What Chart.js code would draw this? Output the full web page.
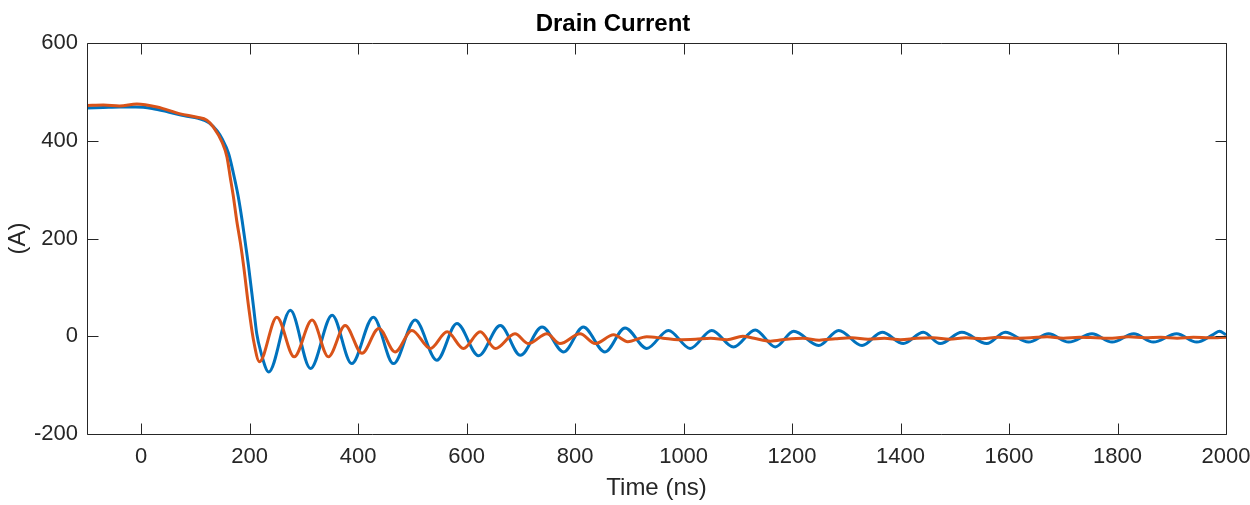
<!DOCTYPE html>
<html>
<head>
<meta charset="utf-8">
<script src="https://cdn.jsdelivr.net/npm/chart.js@4/dist/chart.umd.min.js"></script>
<style>
  html, body { margin: 0; padding: 0; background: #fff; }
  #wrap { width: 1250px; height: 505px; }
</style>
</head>
<body>
<div id="wrap"><canvas id="drain_chart"></canvas></div>
<script>
// tick labels
var xTicks = [0, 200, 400, 600, 800, 1000, 1200, 1400, 1600, 1800, 2000];
var yTicks = [-200, 0, 200, 400, 600];

// blue trace (time ns / current A)
var blueT = [-100, -70, -40, -10, 20, 50, 80, 105, 125, 140, 149, 161, 170, 179, 186, 192, 198, 207, 213, 220,
  235, 275, 312, 352, 388, 428, 465, 505, 545, 582, 622, 662, 699, 739, 779, 815, 855, 892, 932, 972,
  1012, 1052, 1092, 1132, 1169, 1203, 1249, 1286, 1329, 1366, 1405, 1442, 1473, 1513, 1559, 1593, 1636, 1673, 1710, 1753,
  1790, 1830, 1866, 1909, 1946, 1977, 1988, 2000];
var blueI = [467, 468, 469, 469, 466, 459, 451, 446, 437, 420, 404, 374, 333, 285, 237, 190, 142, 60, 5, -30,
  -73, 53, -66, 43, -56, 39, -56, 33, -49, 26, -40, 22, -39, 19, -32, 19, -32, 17, -25, 12,
  -25, 12, -22, 13, -22, 10, -19, 12, -19, 8, -15, 8, -15, 8, -15, 8, -12, 5, -12, 5,
  -12, 5, -12, 5, -12, 4, 10, 3];

// orange trace
var orangeT = [-100, -70, -40, -8, 29, 72, 103, 121, 133, 149, 158, 164, 170, 176, 183, 189, 198, 207, 218, 250,
  282, 315, 345, 376, 407, 438, 468, 499, 533, 564, 594, 625, 653, 689, 714, 748, 772, 809, 837, 871,
  897, 932, 962, 990, 1022, 1050, 1080, 1109, 1130, 1160, 1190, 1220, 1250, 1280, 1310, 1340, 1370, 1400, 1430, 1460,
  1490, 1520, 1550, 1580, 1610, 1640, 1670, 1700, 1730, 1760, 1790, 1820, 1850, 1880, 1910, 1940, 1970, 2000];
var orangeI = [472, 473, 471, 475, 469, 455, 448, 442, 428, 397, 367, 326, 285, 237, 190, 142, 60, -8, -52, 39,
  -42, 33, -42, 22, -35, 16, -32, 12, -25, 9, -25, 9, -25, 5, -15, 5, -15, 5, -15, 3,
  -11, -1, -4, -7, -6, -4, -7, 0, -4, -10, -6, -4, -8, -5, -3, -6, -4, -7, -4, -3,
  -6, -3, -5, -2, -4, -3, -1, -4, -2, -3, -4, -1, -3, -2, -4, -2, -3, -2];

var FONT = "'Liberation Sans', Arial, Helvetica, sans-serif";
var AXIS = '#262626';
var TICK = 11;

function pts(t, v) {
    return t.map(function (x, i) { return { x: x, y: v[i] }; });
}

// box round the plot + inward ticks on all four sides (MATLAB look)
var frameTicks = {
    id: 'frameTicks',
    afterDatasetsDraw: function (chart) {
        var ctx = chart.ctx, a = chart.chartArea, sx = chart.scales.x, sy = chart.scales.y;
        var L = Math.round(a.left) + 0.5, R = Math.round(a.right) + 0.5;
        var T = Math.round(a.top) + 0.5, B = Math.round(a.bottom) + 0.5;
        ctx.save();
        ctx.strokeStyle = AXIS;
        ctx.lineWidth = 1;
        ctx.beginPath();
        ctx.rect(L, T, R - L, B - T);
        xTicks.forEach(function (v) {
            var p = Math.round(sx.getPixelForValue(v)) + 0.5;
            ctx.moveTo(p, B); ctx.lineTo(p, B - TICK);
            ctx.moveTo(p, T); ctx.lineTo(p, T + TICK);
        });
        yTicks.forEach(function (v) {
            var p = Math.round(sy.getPixelForValue(v)) + 0.5;
            ctx.moveTo(L, p); ctx.lineTo(L + TICK, p);
            ctx.moveTo(R, p); ctx.lineTo(R - TICK, p);
        });
        ctx.stroke();
        ctx.restore();
    }
};

var CHART = document.getElementById('drain_chart').getContext('2d');
var drain_chart = new Chart(CHART, {
    type: 'line',
    data: {
        datasets: [{
                data: pts(blueT, blueI),
                borderColor: '#0072BD',
                borderWidth: 3,
                order: 1
            },
            {
                data: pts(orangeT, orangeI),
                borderColor: '#D95319',
                borderWidth: 3,
                order: 0
            }
        ]
    },
    options: {
        responsive: true,
        maintainAspectRatio: false,
        animation: false,
        layout: { padding: { left: 0, right: 24, top: 0, bottom: 0 } },
        elements: {
            point: { radius: 0 },
            line: { cubicInterpolationMode: 'monotone', fill: false }
        },
        plugins: {
            legend: { display: false },
            tooltip: { enabled: false },
            title: {
                display: true,
                text: 'Drain Current',
                color: '#000',
                font: { family: FONT, size: 24, weight: 'bold' },
                padding: { top: 10, bottom: 4.2 }
            }
        },
        scales: {
            x: {
                type: 'linear',
                min: -100,
                max: 2000,
                afterBuildTicks: function (s) { s.ticks = xTicks.map(function (v) { return { value: v }; }); },
                afterFit: function (s) { s.height = 71; s.paddingLeft = 0; s.paddingRight = 0; },
                grid: { display: false, drawTicks: false },
                border: { display: false },
                ticks: {
                    autoSkip: false, maxRotation: 0, padding: 10, color: AXIS,
                    font: { family: FONT, size: 22 },
                    callback: function (v) { return String(v); }
                },
                title: { display: true, text: 'Time (ns)', color: AXIS, padding: { top: 0, bottom: 2 }, font: { family: FONT, size: 24 } }
            },
            y: {
                type: 'linear',
                min: -200,
                max: 600,
                afterBuildTicks: function (s) { s.ticks = yTicks.map(function (v) { return { value: v }; }); },
                afterFit: function (s) { s.width = 87; s.paddingTop = 0; s.paddingBottom = 0; },
                grid: { display: false, drawTicks: false },
                border: { display: false },
                ticks: {
                    autoSkip: false, padding: 9, color: AXIS,
                    font: { family: FONT, size: 22 },
                    callback: function (v) { return String(v); }
                },
                title: { display: true, text: '(A)', color: AXIS, padding: { top: 4, bottom: 0 }, font: { family: FONT, size: 24 } }
            }
        }
    },
    plugins: [frameTicks]
});
</script>
</body>
</html>
